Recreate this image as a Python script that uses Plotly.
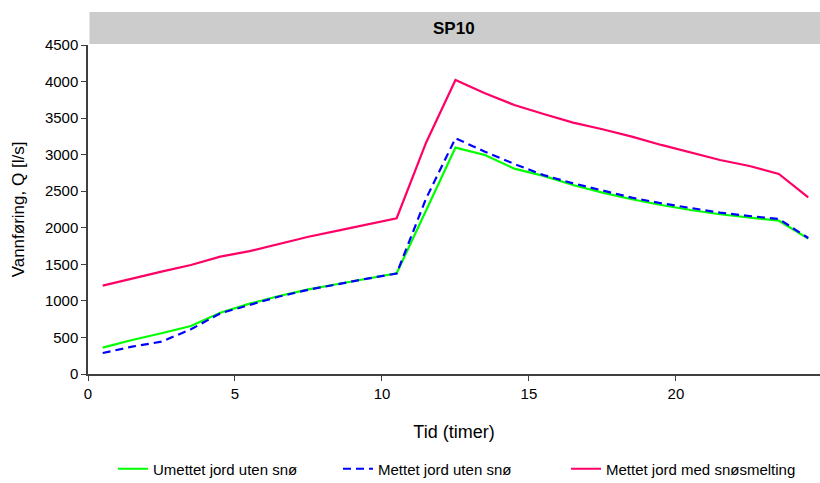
import plotly.graph_objects as go

hours = [0.5, 1.5, 2.5, 3.5, 4.5, 5.5, 6.5, 7.5, 8.5, 9.5, 10.5, 11.5, 12.5,
         13.5, 14.5, 15.5, 16.5, 17.5, 18.5, 19.5, 20.5, 21.5, 22.5, 23.5, 24.5]

umettet_uten_sno = [360, 465, 557, 657, 839, 962, 1067, 1158, 1231, 1309, 1377, 2237, 3096,
                    2996, 2809, 2710, 2585, 2480, 2390, 2312, 2243, 2185, 2143, 2097, 1852]

mettet_uten_sno = [287, 374, 442, 611, 830, 950, 1060, 1152, 1230, 1305, 1375, 2400, 3224,
                   3041, 2873, 2720, 2608, 2508, 2412, 2335, 2267, 2207, 2161, 2120, 1860]

mettet_med_snosmelting = [1208, 1309, 1400, 1491, 1605, 1680, 1774, 1878, 1961, 2047, 2130, 3164, 4022,
                          3840, 3680, 3557, 3438, 3347, 3247, 3133, 3028, 2927, 2845, 2736, 2417]

names = ["Umettet jord uten snø", "Mettet jord uten snø", "Mettet jord med snøsmelting"]
title = "SP10"
x_title = "Tid (timer)"
y_title = "Vannføring, Q [l/s]"

FONT = "Liberation Sans, Arial, sans-serif"

W, H = 820, 483
L, R, T = 88, 0, 45
B = H - 374
plot_w = W - L - R
plot_h = H - T - B

fig = go.Figure()
fig.add_trace(go.Scatter(x=hours, y=umettet_uten_sno, mode="lines", name=names[0],
                         legend="legend", line=dict(color="#00ff00", width=2.2)))
fig.add_trace(go.Scatter(x=hours, y=mettet_uten_sno, mode="lines", name=names[1],
                         legend="legend2", line=dict(color="#0000ff", width=2.2, dash="8px,5px")))
fig.add_trace(go.Scatter(x=hours, y=mettet_med_snosmelting, mode="lines", name=names[2],
                         legend="legend3", line=dict(color="#ff0066", width=2.2)))

# gray header strip above plot area
fig.add_shape(type="rect", xref="paper", yref="paper", x0=0.002, x1=1,
              y0=1.003, y1=1 + 33 / plot_h, fillcolor="#cccccc", line_width=0, layer="below")
fig.add_annotation(text="<b>%s</b>" % title, xref="paper", yref="paper", x=0.5,
                   y=1 + 16.5 / plot_h, showarrow=False, yanchor="middle",
                   font=dict(family=FONT, size=17, color="black"))


def leg(line_start):
    box_left = line_start - 7
    return dict(orientation="h", x=(box_left - L) / plot_w, xanchor="left",
                y=-(469 - (H - B)) / plot_h, yanchor="middle",
                font=dict(family=FONT, size=15, color="black"),
                bgcolor="rgba(0,0,0,0)")


fig.update_layout(
    width=W, height=H,
    margin=dict(l=L, r=R, t=T, b=B, autoexpand=False),
    paper_bgcolor="white", plot_bgcolor="white",
    font=dict(family=FONT, size=15, color="black"),
    showlegend=True,
    legend=leg(120),
    legend2=leg(345),
    legend3=leg(573),
    xaxis=dict(range=[0, 24.9], tickvals=[0, 5, 10, 15, 20], showgrid=False, zeroline=False,
               showline=True, linecolor="#404040", linewidth=1.5, ticks="outside",
               tickcolor="#404040", ticklen=5, tickfont=dict(size=15), automargin=False,
               title=dict(text=x_title, font=dict(size=18), standoff=25)),
    yaxis=dict(range=[0, 4500], dtick=500, showgrid=False, zeroline=False,
               showline=True, linecolor="#404040", linewidth=1.5, ticks="outside",
               tickcolor="#404040", ticklen=5, tickfont=dict(size=15), automargin=False,
               title=dict(text=y_title, font=dict(size=17), standoff=16)),
)

fig.write_html("out.html",
               config={"displayModeBar": False},
               post_script="document.body.style.margin='0';document.body.style.overflow='hidden';")
